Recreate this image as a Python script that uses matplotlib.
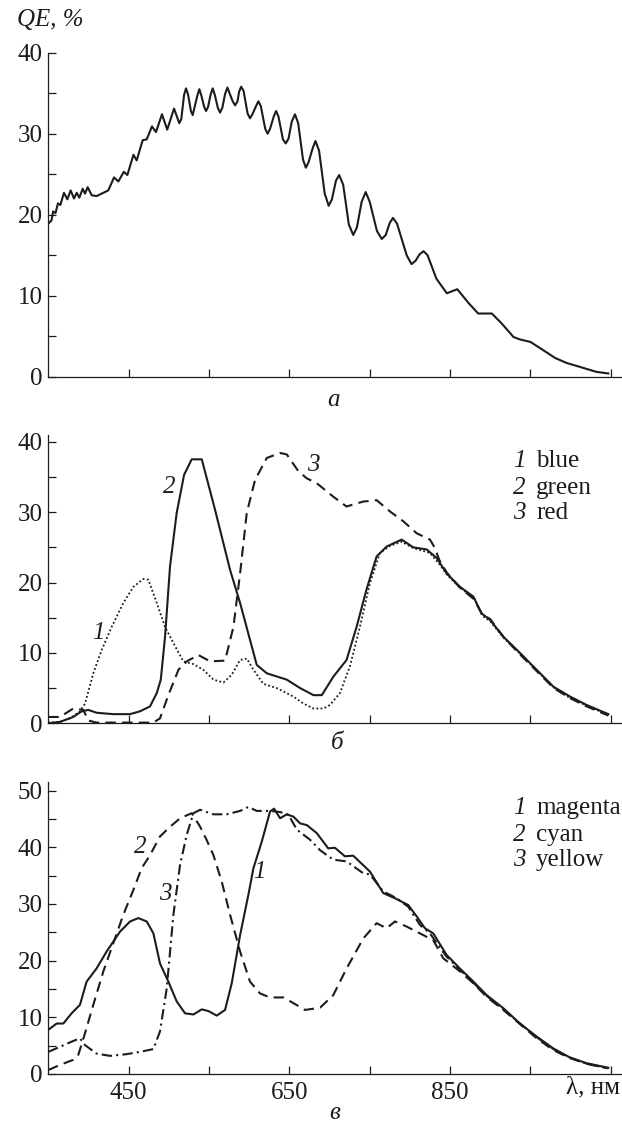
import matplotlib
matplotlib.use('Agg')
import matplotlib.pyplot as plt

plt.rcParams['font.family'] = ['Liberation Serif', 'DejaVu Serif']

# --- panel a: total QE of the sensor ---
wl_a = [350, 354, 356, 359, 362, 365, 369.5, 373.7, 377.8, 382, 385.3, 388.6, 392.8, 395.7,
        399, 404, 410, 416.4, 424.7, 431.8, 437.2, 444, 448.4, 456, 460, 467.5, 472.5, 479,
        484, 491.5, 498, 506.5, 513, 515.5, 519, 521.4, 524, 527.5, 529.7, 535.5, 538, 540.5,
        544, 546.3, 548.8, 552, 554.6, 557.2, 561, 563.8, 566.6, 570, 572.9, 576, 579.5,
        582.5, 585.5, 587.5, 590, 593, 598, 601, 604, 608.5, 611.5, 614.5, 620, 623, 626,
        630.5, 633.5, 636.5, 642, 645.5, 649, 653, 657, 661, 667, 670.5,
        674, 679, 682.5, 687, 694, 699, 703, 708, 712, 717, 724, 729.5, 734, 740, 745, 750,
        759, 765, 770, 775, 779, 784, 796, 802, 807, 812, 817, 822, 833, 846, 859, 873, 885,
        902, 914, 929, 937, 950, 964, 981, 995, 1012, 1032, 1047]
qe_a = [18.9, 19.3, 20.4, 20.2, 21.4, 21.2, 22.7, 21.9, 23.0, 22.0, 22.7, 22.1, 23.2, 22.6,
        23.4, 22.4, 22.3, 22.6, 23.0, 24.6, 24.1, 25.3, 24.9, 27.4, 26.7, 29.2, 29.3, 30.9,
        30.2, 32.4, 30.5, 33.1, 31.3, 31.8, 34.8, 35.6, 34.8, 32.8, 32.3, 34.7, 35.5, 34.7,
        33.3, 32.8, 33.3, 34.8, 35.6, 34.8, 33.2, 32.6, 33.2, 34.9, 35.7, 34.9, 34.0,
        33.5, 34.0, 35.2, 35.8, 35.3, 32.5, 31.9, 32.4, 33.4, 34.0, 33.4, 30.6, 30.0, 30.6,
        32.1, 32.8, 32.1, 29.3, 28.8, 29.4, 31.5, 32.4, 31.3, 26.8, 25.8,
        26.5, 28.2, 29.1, 27.9, 22.6, 21.1, 21.9, 24.2, 24.9, 23.7, 18.8, 17.5, 18.4, 21.6, 22.8,
        21.6, 18.0, 17.0, 17.5, 19.0, 19.6, 18.9, 15.0, 13.9, 14.3, 15.1, 15.5, 15.0, 12.1, 10.3,
        10.8, 9.1, 7.8, 7.8, 6.6, 4.9, 4.6, 4.3, 3.4, 2.3, 1.7, 1.2, 0.6, 0.4]

# --- panel b: RGB filters ---
wl_blue = [350, 364.5, 377, 389.4, 395.7, 406, 416.4, 428.9, 443.4, 455.9, 468.3, 474.5, 485,
           495.3, 505.7, 518, 530.6, 543, 555.5, 568, 578.3, 588.7, 597, 605.3, 617.7, 634.4,
           655, 667.6, 680, 692.5, 700.5, 713, 725.4, 737.8, 750.3, 762.7, 775.2, 789.7, 804.2,
           825, 837.4, 847, 863, 880, 890, 900, 917, 937, 958, 979, 999, 1020, 1047]
qe_blue = [0.1, 0.2, 0.7, 1.7, 2.8, 7.1, 10.4, 13.7, 17.1, 19.4, 20.5, 20.4, 17.1,
           13.7, 11.4, 8.8, 8.4, 7.6, 6.2, 5.8, 6.9, 9.0, 9.2, 7.6, 5.6, 5.0,
           3.8, 2.8, 2.1, 2.1, 2.6, 4.3, 8.1, 13.7, 19.9, 24.2, 25.2, 25.8, 24.9,
           24.2, 22.5, 21.0, 19.2, 17.8, 15.3, 14.5, 12.1, 9.9, 7.5, 5.1, 3.6, 2.5, 1.2]
wl_green = [350, 364.5, 381, 391.5, 399.8, 410, 431, 451.7, 464, 476.6, 485, 490, 495.3, 501.5,
            509.8, 519, 528.5, 541, 557.6, 576.2, 588.7, 609.4, 622, 646.8, 663.4, 680, 690.4,
            704.6, 721.2, 733.7, 746, 758.6, 771, 789.7, 804.2, 820.8, 833.3, 845.7, 862.3, 879,
            889.3, 899.7, 916.3, 937, 957.8, 978.6, 999.3, 1020, 1047]
qe_green = [0, 0.2, 0.9, 1.7, 1.9, 1.5, 1.3, 1.3, 1.7, 2.4, 4.3, 6.2, 12.3, 22.3,
            29.9, 35.3, 37.5, 37.5, 30.3, 21.8, 17.1, 8.3, 7.1, 6.2, 5.0, 4.0, 4.0,
            6.6, 9.0, 13.7, 19.0, 23.7, 25.1, 26.1, 25.0, 24.7, 23.5, 21.3, 19.4, 18.0,
            15.6, 14.7, 12.3, 10.0, 7.6, 5.2, 3.8, 2.6, 1.3]
wl_red = [350, 364.5, 381, 393.6, 399.8, 410, 447.5, 480.8, 489, 499.4, 512, 522.3, 536.8,
          551.3, 570, 580.4, 588.7, 597, 607.4, 622, 638.5, 646.8, 661.3, 671.7, 684.2, 704.6,
          721.2, 742, 758.6, 775.2, 791.8, 808.4, 825, 831.2, 836.6, 846, 862, 879, 890, 900,
          917, 937, 958, 979, 999, 1020, 1047]
qe_red = [0.9, 0.9, 2.1, 1.9, 0.4, 0.1, 0.1, 0.1, 0.7, 4.0, 7.6, 8.8, 9.7,
          8.8, 8.9, 13.7, 21.3, 29.9, 34.6, 37.7, 38.4, 38.2, 35.8, 34.8, 34.1, 32.2,
          30.8, 31.5, 31.7, 30.1, 28.7, 27.0, 26.1, 24.9, 23.2, 21.4, 19.3, 17.7, 15.5, 14.8,
          12.2, 9.8, 7.4, 5.0, 3.6, 2.4, 1.1]

# --- panel c: CMY filters ---
wl_mag = [350, 360.4, 368.7, 379, 389.4, 397.7, 410, 422.6, 439.2, 451.7, 462, 472.5, 480.8,
          489, 499.4, 509.8, 520.2, 530.6, 541, 549.3, 559.6, 570, 578.3, 588.7, 599, 605.3,
          615.7, 626, 631, 638.5, 646.8, 655, 663.4, 671.7, 684, 698.4, 706.7, 719.1, 729.5,
          750.3, 766.9, 781.4, 798, 808.4, 818.8, 829.1, 845.7, 862.3, 879, 895.6, 916.3, 937,
          957.8, 978.6, 999.3, 1020, 1047]
qe_mag = [7.8, 8.9, 8.9, 10.7, 12.2, 16.3, 18.6, 21.6, 25.1, 26.9, 27.5, 26.9, 24.8,
          19.5, 16.3, 12.8, 10.7, 10.5, 11.4, 11.1, 10.3, 11.3, 16.0, 24.5, 31.6, 36.3,
          41.0, 46.3, 46.8, 45.1, 45.8, 45.4, 44.2, 43.9, 42.5, 39.8, 39.9, 38.4, 38.5,
          35.7, 31.9, 31.0, 29.8, 27.8, 25.7, 24.8, 21.0, 18.6, 16.3, 13.9, 11.6, 8.9,
          6.6, 4.5, 2.9, 1.9, 1.1]
wl_cyan = [350, 364.5, 381, 387.4, 395.7, 406, 418.5, 431, 443.4, 456, 466.2, 476.6, 489,
           501.5, 514, 528.5, 539, 547, 555.5, 565.9, 576.2, 588.7, 601, 613.6, 626, 642.7,
           655, 669.6, 688.3, 704.6, 721.2, 742, 758.6, 771, 781.4, 796, 812.5, 829.1, 841.6,
           862.3, 879, 895.6, 916.3, 937, 957.8, 978.6, 999.3, 1020, 1047]
qe_cyan = [0.7, 1.6, 2.5, 3.4, 7.2, 12.2, 18.1, 23.1, 28.1, 32.5, 36.3, 38.6, 41.9,
           43.6, 45.1, 46.0, 43.6, 41.3, 38.6, 33.9, 28.1, 21.6, 16.3, 14.2, 13.5, 13.5,
           12.5, 11.3, 11.7, 13.9, 18.6, 23.9, 26.6, 25.7, 26.9, 26.0, 24.8, 23.6, 20.4,
           18.1, 16.0, 13.6, 11.3, 8.8, 6.3, 4.2, 2.8, 1.8, 1.0]
wl_yel = [350, 364.5, 379, 389.4, 395.7, 410, 426.8, 447.5, 464, 480.8, 489, 497.4, 505.7,
          514, 522.3, 530.6, 539, 555.5, 572, 588.7, 599, 609.4, 626, 638.5, 649, 659.3,
          675.9, 688, 704.6, 721.2, 742, 750.3, 766.9, 783.5, 798, 812.5, 825, 833.3, 845.7,
          862.3, 879, 895.6, 916.3, 937, 957.8, 978.6, 999.3, 1020, 1047]
qe_yel = [3.9, 4.8, 5.7, 6.3, 5.1, 3.6, 3.2, 3.5, 3.9, 4.4, 7.5, 15.1, 28.1,
          36.9, 42.2, 46.0, 46.6, 45.8, 45.8, 46.4, 47.1, 46.4, 46.4, 46.2, 45.7, 43.1,
          41.3, 39.5, 37.8, 37.5, 35.4, 35.2, 32.2, 31.0, 29.5, 26.3, 24.8, 23.1, 20.7,
          18.4, 16.1, 13.8, 11.4, 8.9, 6.5, 4.4, 2.9, 1.8, 1.0]

ink = '#1c1c1c'
W, H = 622, 1125
fig = plt.figure(figsize=(W / 100, H / 100), dpi=100)


def make_axes(top_px, bottom_px, ymax, yticks):
    ax = fig.add_axes([48.3 / W, 1 - bottom_px / H, 1 - 48.3 / W, (bottom_px - top_px) / H])
    ax.set_xlim(350, 1064)
    ax.set_ylim(0, ymax)
    for s in ['top', 'right']:
        ax.spines[s].set_visible(False)
    for s in ['left', 'bottom']:
        ax.spines[s].set_linewidth(0.9)
        ax.spines[s].set_color(ink)
    ax.set_xticks(range(450, 1051, 100))
    ax.set_xticklabels([])
    ax.set_yticks(yticks)
    ax.set_yticklabels([str(v) if v % 10 == 0 else '' for v in yticks])
    ax.tick_params(direction='in', length=6, width=0.9, color=ink, labelsize=18,
                   labelcolor=ink, pad=4)
    ax.patch.set_alpha(0)
    return ax


lw = 1.5

# panel a
ax1 = make_axes(52.7, 376.7, 40, list(range(0, 41, 5)))
ax1.plot(wl_a, qe_a, color=ink, lw=lw, solid_joinstyle='round')

# panel b
ax2 = make_axes(434.7, 723.3, 41, list(range(0, 41, 5)))
ax2.plot(wl_blue, qe_blue, color=ink, lw=1.3, dashes=(1, 1.3))
ax2.plot(wl_green, qe_green, color=ink, lw=lw)
ax2.plot(wl_red, qe_red, color=ink, lw=lw, dashes=(5, 3))
it = dict(style='italic', fontsize=18, color=ink, ha='center', va='center')
ax2.text(412, 12.8, '1', **it)
ax2.text(501, 33.6, '2', **it)
ax2.text(680, 36.7, '3', **it)
for y, num, name in [(37.2, '1', 'blue'), (33.4, '2', 'green'), (29.9, '3', 'red')]:
    ax2.text(928, y, num, style='italic', fontsize=18, color=ink, va='center')
    ax2.text(957, y, name, fontsize=18, color=ink, va='center')

# panel c
ax3 = make_axes(782, 1074, 51.5, list(range(0, 51, 5)))
ax3.plot(wl_mag, qe_mag, color=ink, lw=lw)
ax3.plot(wl_cyan, qe_cyan, color=ink, lw=lw, dashes=(5, 3))
ax3.plot(wl_yel, qe_yel, color=ink, lw=lw, dashes=(5, 2, 1, 2))
ax3.set_xticks(range(450, 1051, 100))
ax3.set_xticklabels(['450', '', '650', '', '850', '', ''])
ax3.tick_params(axis='x', pad=6)
ax3.text(464, 40.1, '2', **it)
ax3.text(496, 31.7, '3', **it)
ax3.text(613, 35.6, '1', **it)
for y, num, name in [(46.9, '1', 'magenta'), (42.2, '2', 'cyan'), (37.8, '3', 'yellow')]:
    ax3.text(928, y, num, style='italic', fontsize=18, color=ink, va='center')
    ax3.text(957, y, name, fontsize=18, color=ink, va='center')

# figure labels
fig.text(17 / W, 1 - 20 / H, 'QE, %', style='italic', fontsize=18, color=ink, va='center')
fig.text(333 / W, 1 - 400 / H, 'а', style='italic', fontsize=18, color=ink, ha='center', va='center')
fig.text(337 / W, 1 - 743 / H, 'б', style='italic', fontsize=18, color=ink, ha='center', va='center')
fig.text(335 / W, 1 - 1113 / H, 'в', style='italic', fontsize=18, color=ink, ha='center', va='center')
fig.text(620 / W, 1 - 1087 / H, 'λ, нм', fontsize=18, color=ink, ha='right', va='center')

fig.savefig('out.png', dpi=100)
